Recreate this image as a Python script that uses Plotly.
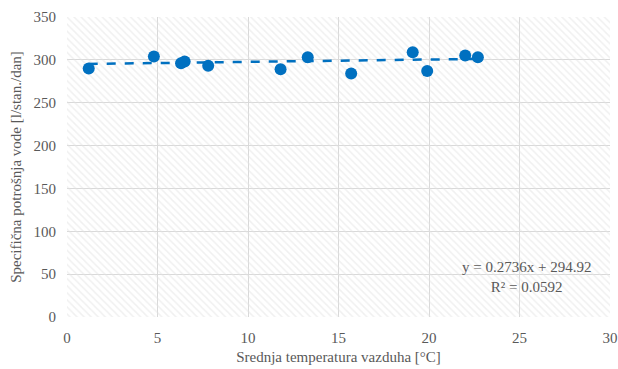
import plotly.graph_objects as go

# Data
temperature = [1.2, 4.8, 6.3, 6.5, 7.8, 11.8, 13.3, 15.7, 19.1, 19.9, 22.0, 22.7]
consumption = [290, 304, 296, 298, 293, 289, 303, 284, 309, 287, 305, 303]

slope = 0.2736
intercept = 294.92
r2 = 0.0592

x_range = [0, 30]
y_range = [0, 350]
x_ticks = [0, 5, 10, 15, 20, 25, 30]
y_ticks = [0, 50, 100, 150, 200, 250, 300, 350]

font_family = "Liberation Serif, Times New Roman, serif"
text_color = "#595959"
blue = "#0070C0"

fig = go.Figure()

# hatched plot background (transparent so grid shows through)
fig.add_trace(go.Scatter(
    x=[x_range[0], x_range[1], x_range[1], x_range[0], x_range[0]],
    y=[y_range[0], y_range[0], y_range[1], y_range[1], y_range[0]],
    mode="none", fill="toself", fillcolor="rgba(0,0,0,0)",
    fillpattern=dict(shape="\\", fgcolor="#e2e2e2", bgcolor="rgba(0,0,0,0)",
                     size=5, solidity=0.3),
    hoverinfo="skip", showlegend=False,
))

# trend line
tx = [min(temperature), max(temperature)]
ty = [slope * v + intercept for v in tx]
fig.add_trace(go.Scatter(
    x=tx, y=ty, mode="lines",
    line=dict(color=blue, width=2.5, dash="dash"),
    showlegend=False,
))

fig.add_trace(go.Scatter(
    x=temperature, y=consumption, mode="markers",
    marker=dict(color=blue, size=12),
    showlegend=False,
))

fig.add_annotation(
    x=25.4, y=47, xref="x", yref="y",
    text=f"y = {slope}x + {intercept}<br>R² = {r2}",
    showarrow=False, align="center",
    font=dict(family=font_family, size=15, color=text_color),
)

fig.update_layout(
    width=618, height=369,
    margin=dict(l=67, r=8, t=17, b=52, autoexpand=False),
    paper_bgcolor="white", plot_bgcolor="white",
    font=dict(family=font_family, size=15, color=text_color),
)
fig.update_xaxes(
    range=x_range, tickvals=x_ticks, showgrid=True, gridcolor="#d9d9d9", gridwidth=1,
    zeroline=False, showline=False, ticks="", automargin=False,
    ticklabelstandoff=10,
    title=dict(text="Srednja temperatura vazduha [°C]", standoff=6,
               font=dict(family=font_family, size=15, color=text_color)),
    tickfont=dict(family=font_family, size=15, color=text_color),
)
fig.update_yaxes(
    range=y_range, tickvals=y_ticks, showgrid=True, gridcolor="#d9d9d9", gridwidth=1,
    zeroline=False, showline=False, ticks="", automargin=False,
    ticklabelstandoff=10,
    title=dict(text="Specifična potrošnja vode [l/stan./dan]", standoff=8,
               font=dict(family=font_family, size=15, color=text_color)),
    tickfont=dict(family=font_family, size=15, color=text_color),
)

fig.write_html("out.html")
